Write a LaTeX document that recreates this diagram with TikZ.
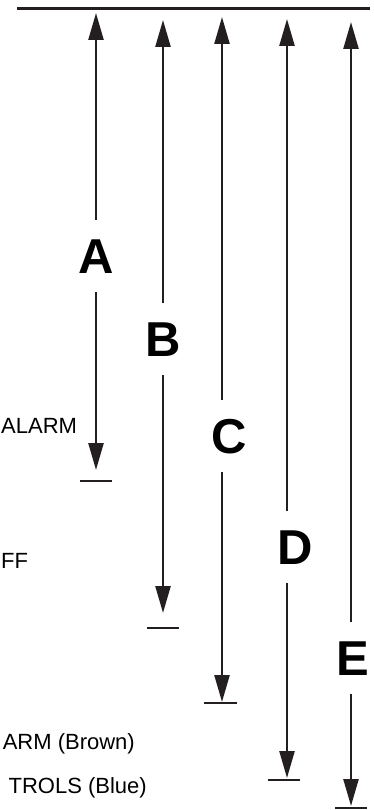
\documentclass[tikz,border=0pt]{standalone}
\usepackage{fontspec}
\setmainfont{Liberation Sans}
\usetikzlibrary{arrows.meta}
\definecolor{linea}{RGB}{35,31,32}
\tikzset{
    cota/.style={draw=linea, line width=2.4pt, -{Triangle[length=27pt, width=15pt]}},
    tope/.style={draw=linea, line width=2.6pt},
    letra/.style={font=\fontsize{49}{49}\selectfont\bfseries, text height=35pt, text depth=0pt, inner xsep=0pt, inner ysep=18pt},
    etiqueta/.style={font=\fontsize{22}{22}\selectfont, anchor=base east, inner sep=0pt}
}
\begin{document}
\begin{tikzpicture}[x=1pt, y=-1pt]
    \useasboundingbox (0,0) rectangle (373,810);

    % Linea superior
    \draw[tope, line width=3pt] (17,9) -- (370,9);

    % Puntas superiores e inferiores
    \coordinate (tA) at (96,13);
    \coordinate (tB) at (163,20);
    \coordinate (tC) at (222,17);
    \coordinate (tD) at (287,19);
    \coordinate (tE) at (351,22);
    \coordinate (bA) at (96,470);
    \coordinate (bB) at (163,613);
    \coordinate (bC) at (222,702);
    \coordinate (bD) at (287,778);
    \coordinate (bE) at (351,806);

    % Letras
    \node (A) [letra] at (96,256) {A};
    \node (B) [letra] at (163,339) {B};
    \node (C) [letra] at (229,436) {C};
    \node (D) [letra] at (295,547) {D};
    \node (E) [letra] at (352.5,658) {E};

    % Flechas
    \draw[cota] (A.north -| tA) -- (tA);
    \draw[cota] (A.south -| tA) -- (bA);
    \draw[cota] (B.north -| tB) -- (tB);
    \draw[cota] (B.south -| tB) -- (bB);
    \draw[cota] (C.north -| tC) -- (tC);
    \draw[cota] (C.south -| tC) -- (bC);
    \draw[cota] (D.north -| tD) -- (tD);
    \draw[cota] (D.south -| tD) -- (bD);
    \draw[cota] (E.north -| tE) -- (tE);
    \draw[cota] (E.south -| tE) -- (bE);

    % Topes inferiores
    \draw[tope] (80,481) -- (112,481);
    \draw[tope] (147,628) -- (179,628);
    \draw[tope] (204,703) -- (237,703);
    \draw[tope] (268,780) -- (300,780);
    \draw[tope] (335,808) -- (367,808);

    % Textos de la izquierda
    \node (alarma) [etiqueta, anchor=base west] at (1,433) {ALARM};
    \node (apagado) [etiqueta, anchor=base west] at (1,568) {FF};
    \node (marron) [etiqueta] at (135,749) {ARM (Brown)};
    \node (azul) [etiqueta] at (147,793) {TROLS (Blue)};
\end{tikzpicture}
\end{document}
